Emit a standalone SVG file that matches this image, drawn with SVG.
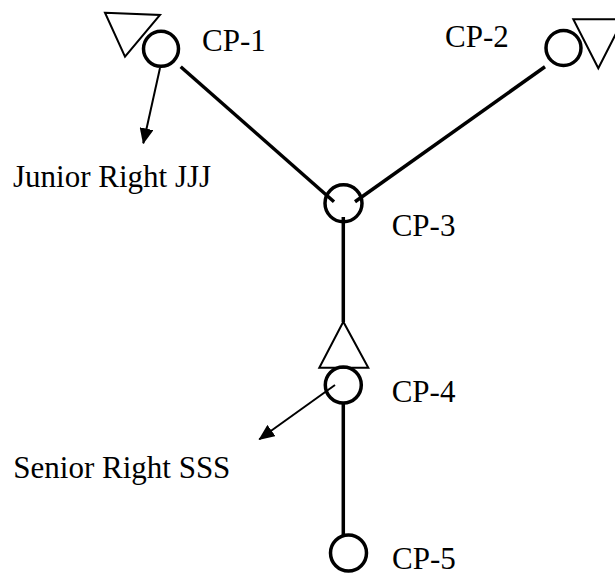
<svg xmlns="http://www.w3.org/2000/svg" width="615" height="576" viewBox="0 0 615 576">
<style>
.node{fill:none;stroke:#000;stroke-width:3.5}
.tri{fill:none;stroke:#000;stroke-width:2}
.edge{stroke:#000;stroke-width:3.5;fill:none}
.arr{stroke:#000;stroke-width:2;fill:none}
.lbl{font-family:"Liberation Serif","Times New Roman",serif;font-size:31px;fill:#000}
</style>
<defs>
<marker id="ah" markerUnits="userSpaceOnUse" markerWidth="16" markerHeight="14" refX="15" refY="7" orient="auto">
<path d="M0,0 L16,7 L0,14 Z" fill="#000"/>
</marker>
</defs>
<rect width="615" height="576" fill="#fff"/>
<g id="connectors">
<line class="edge" x1="180.7" y1="66.7" x2="334" y2="201.7"/>
<line class="edge" x1="545" y1="66.7" x2="355" y2="201.7"/>
<line class="edge" x1="343.3" y1="217" x2="343.3" y2="322"/>
<line class="edge" x1="343.3" y1="404" x2="343.3" y2="535"/>
<line class="arr" x1="160" y1="68" x2="143.3" y2="143.3" marker-end="url(#ah)"/>
<line class="arr" x1="335" y1="385" x2="259.3" y2="439.3" marker-end="url(#ah)"/>
</g>
<g id="cp1">
<polygon class="tri" points="105,12.7 160,15 125,56.7"/>
<circle class="node" cx="161" cy="48.8" r="17.5"/>
<text class="lbl" x="202" y="50.7">CP-1</text>
</g>
<g id="cp2">
<polygon class="tri" points="573.3,19.3 623.3,19.3 598.3,68.3"/>
<circle class="node" cx="563.5" cy="48" r="17.5"/>
<text class="lbl" x="445" y="46.7">CP-2</text>
</g>
<g id="cp3">
<circle class="node" cx="343.5" cy="203.3" r="18.5"/>
<text class="lbl" x="391.7" y="236">CP-3</text>
</g>
<g id="cp4">
<polygon class="tri" points="343.3,321.7 319.3,367.7 368.3,367.7"/>
<circle class="node" cx="343.3" cy="385" r="18"/>
<text class="lbl" x="391.7" y="401.7">CP-4</text>
</g>
<g id="cp5">
<circle class="node" cx="348.5" cy="553" r="18"/>
<text class="lbl" x="392" y="568.5">CP-5</text>
</g>
<g id="junior">
<text class="lbl" x="13" y="186.7">Junior Right JJJ</text>
</g>
<g id="senior">
<text class="lbl" x="13.3" y="478.3">Senior Right SSS</text>
</g>
</svg>
